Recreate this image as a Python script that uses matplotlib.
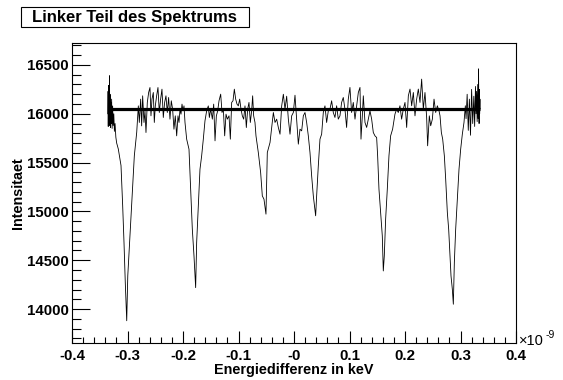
import matplotlib.pyplot as plt
from matplotlib.ticker import MultipleLocator, FixedLocator, FixedFormatter
from matplotlib.patches import Rectangle

plt.rcParams['font.family'] = ['Liberation Sans', 'DejaVu Sans']

# energy difference in units of 1e-9 keV
energy = [
    # left edge (dense points)
    -0.3352, -0.3350, -0.3347, -0.3343, -0.3339, -0.3335, -0.3330, -0.3325, -0.3320, -0.3314, -0.3308,
    -0.3301, -0.3294, -0.3286, -0.3277, -0.3268, -0.3258, -0.3247, -0.3236, -0.3224, -0.3210, -0.3195,
    # dip 1
    -0.3166, -0.3117, -0.3087, -0.3063, -0.3040, -0.3014, -0.2995, -0.2960, -0.2924, -0.2877, -0.2834,
    # noise
    -0.2805, -0.2787, -0.2763, -0.2745, -0.2727, -0.2703, -0.2685, -0.2667, -0.2643, -0.2619, -0.2595,
    -0.2577, -0.2559, -0.2535, -0.2517, -0.2499, -0.2475, -0.2451, -0.2427, -0.2403, -0.2379, -0.2355,
    -0.2331, -0.2307, -0.2283, -0.2259, -0.2235, -0.2211, -0.2187, -0.2163, -0.2139,
    -0.2114, -0.2090, -0.2072, -0.2054, -0.2036, -0.2018, -0.2000, -0.1982, -0.1964,
    # dip 2
    -0.1934, -0.1892, -0.1862, -0.1832, -0.1802, -0.1772, -0.1754, -0.1724, -0.1694, -0.1664, -0.1634,
    -0.1604, -0.1574, -0.1544,
    # noise
    -0.1525, -0.1501, -0.1471, -0.1447, -0.1423, -0.1399, -0.1375, -0.1351, -0.1321, -0.1297, -0.1273,
    -0.1249, -0.1225, -0.1201, -0.1171, -0.1147, -0.1123, -0.1099, -0.1075, -0.1051, -0.1027, -0.1003,
    -0.0979, -0.0955, -0.0931, -0.0907, -0.0883, -0.0859, -0.0835, -0.0811, -0.0787, -0.0763,
    # dip 3
    -0.0745, -0.0727, -0.0703, -0.0685, -0.0643, -0.0601, -0.0571, -0.0541, -0.0505, -0.0493, -0.0481,
    -0.0432, -0.0402, -0.0372,
    # noise
    -0.0342, -0.0312, -0.0282, -0.0252, -0.0222, -0.0192, -0.0162, -0.0132, -0.0102, -0.0072,
    -0.0042, -0.0012, 0.0018, 0.0048, 0.0078, 0.0108, 0.0138, 0.0168, 0.0198, 0.0228,
    # dip 4
    0.0258, 0.0288, 0.0318, 0.0348, 0.0390, 0.0408, 0.0438, 0.0468, 0.0498, 0.0528, 0.0558,
    0.0588, 0.0618, 0.0648,
    # noise
    0.0678, 0.0708, 0.0738, 0.0768, 0.0798, 0.0828, 0.0858, 0.0888, 0.0918, 0.0948, 0.0978,
    0.1008, 0.1038, 0.1068, 0.1099, 0.1129, 0.1159, 0.1189, 0.1207, 0.1231, 0.1249, 0.1279,
    0.1309, 0.1339, 0.1369, 0.1399, 0.1429, 0.1459, 0.1489,
    # dip 5
    0.1507, 0.1531, 0.1561, 0.1591, 0.1609, 0.1627, 0.1651, 0.1681, 0.1711, 0.1741, 0.1777,
    0.1819, 0.1849, 0.1879, 0.1909, 0.1939, 0.1969,
    # noise
    0.2000, 0.2030, 0.2060, 0.2090, 0.2120, 0.2150, 0.2180, 0.2210, 0.2240, 0.2270, 0.2300,
    0.2330, 0.2360, 0.2390, 0.2408, 0.2438, 0.2463, 0.2493, 0.2523, 0.2553, 0.2583, 0.2613,
    0.2631, 0.2655,
    # dip 6
    0.2679, 0.2709, 0.2733, 0.2763, 0.2787, 0.2811, 0.2829, 0.2853, 0.2871, 0.2889, 0.2913,
    0.2943, 0.2973, 0.3003, 0.3033, 0.3063, 0.3087,
    # right edge (dense points)
    0.3100, 0.3120, 0.3140, 0.3160, 0.3180, 0.3200, 0.3220, 0.3240, 0.3255, 0.3270, 0.3280,
    0.3290, 0.3300, 0.3310, 0.3320, 0.3325, 0.3330, 0.3335, 0.3340, 0.3345, 0.3350, 0.3352,
]

intensity = [
    16000, 16230, 15870, 16290, 15900, 16180, 15950, 16390, 15880, 16200, 15860,
    16120, 15900, 16150, 15850, 16080, 15880, 16000, 15820, 15900, 15760, 15700,
    15640, 15470, 15060, 14680, 14270, 13880, 14340, 14700, 15090, 15570, 15810,
    16081, 15911, 16150, 15876, 16184, 15911, 16030, 15808, 16116, 16218, 16269,
    15979, 16150, 16218, 15911, 16081, 16184, 16269, 16013, 16150, 16252, 15962,
    16116, 16184, 16013, 16167, 15945, 16133, 16047, 15842, 15979,
    15774, 15979, 15911, 16047, 15996, 16099, 16030, 16081, 15911,
    15740, 15637, 15227, 14817, 14544, 14219, 14681, 15056, 15432, 15569, 15740,
    15928, 16030, 16081,
    15962, 16047, 15945, 16099, 15723, 15979, 16030, 16133, 16201, 16013, 16047,
    15774, 15996, 15945, 15979, 15740, 16116, 16133, 16252, 16150, 16099, 16081,
    16150, 16047, 15979, 15945, 16081, 15859, 16047, 16116, 15911, 16030,
    16184, 15979, 15911, 15774, 15603, 15398, 15159, 15125, 14972, 15296, 15603,
    15706, 15859, 16013,
    15911, 15945, 15859, 15791, 16081, 16200, 16047, 16180, 15945, 15791,
    15979, 16013, 16190, 15945, 15689, 15842, 15825, 15979, 16013, 15911,
    15774, 15603, 15364, 15159, 14955, 15159, 15467, 15740, 15791, 16013, 16081,
    15911, 16030, 16047,
    16133, 16013, 15962, 16082, 15945, 15979, 16116, 16167, 16047, 15860, 16150,
    16270, 16013, 16116, 15945, 16082, 16218, 16270, 15740, 15979, 16184, 15911,
    15860, 15945, 16030, 15945, 15808, 15774, 15757,
    15569, 15227, 14988, 14749, 14390, 14544, 14920, 15227, 15569, 15774, 15843,
    15996, 16047, 16013, 16082, 15945, 16047,
    16116, 15860, 16184, 16253, 16082, 16218, 15979, 16150, 16253, 16116, 16355,
    16047, 16218, 15962, 15672, 15979, 15877, 15945, 16150, 16013, 16082, 16030,
    15979, 15808,
    15740, 15569, 15330, 14988, 14817, 14544, 14339, 14202, 14049, 14476, 14817,
    15125, 15432, 15637, 15791, 15911, 16082,
    15950, 16200, 15830, 16150, 15780, 16250, 15900, 16180, 15870, 16280, 16000,
    16230, 15920, 16300, 15950, 16460, 16100, 15900, 16250, 16000, 16150, 16050,
]

fit_range = [-0.3352, 0.3352]
fit_level = 16050

xticks = [-0.4, -0.3, -0.2, -0.1, 0.0, 0.1, 0.2, 0.3, 0.4]
xtick_labels = ['-0.4', '-0.3', '-0.2', '-0.1', '-0', '0.1', '0.2', '0.3', '0.4']
yticks = [14000, 14500, 15000, 15500, 16000, 16500]

W, H = 563, 380
fig = plt.figure(figsize=(W / 100, H / 100), dpi=100)
ax = fig.add_axes([72 / W, 37 / H, 444 / W, 300 / H])

ax.plot(energy, intensity, color='black', lw=0.6)
ax.plot(fit_range, [fit_level, fit_level], color='black', lw=2.3, solid_capstyle='butt')

ax.set_xlim(-0.4, 0.4)
ax.set_ylim(13652, 16725)

ax.xaxis.set_major_locator(FixedLocator(xticks))
ax.xaxis.set_major_formatter(FixedFormatter(xtick_labels))
ax.xaxis.set_minor_locator(MultipleLocator(0.02))
ax.yaxis.set_major_locator(FixedLocator(yticks))
ax.yaxis.set_minor_locator(MultipleLocator(100))

ax.tick_params(direction='in', top=False, right=False, which='both', width=0.8)
ax.tick_params(axis='x', which='major', length=9, pad=4)
ax.tick_params(axis='x', which='minor', length=4.5)
ax.tick_params(axis='y', which='major', length=13, pad=2.5)
ax.tick_params(axis='y', which='minor', length=6.5)
for lab in ax.get_xticklabels() + ax.get_yticklabels():
    lab.set_fontsize(10.8)
    lab.set_fontweight('bold')
for sp in ax.spines.values():
    sp.set_linewidth(0.8)

ax.set_xlabel('Energiedifferenz in keV', fontsize=10.4, fontweight='bold', labelpad=0)
ax.set_ylabel('Intensitaet', fontsize=10.4, fontweight='bold', labelpad=1)

# exponent of the x axis
fig.text(519 / W, 1 - 345 / H, '\u00d710', fontsize=10.5, ha='left', va='baseline')
fig.text(546 / W, 1 - 338 / H, '-9', fontsize=7.5, ha='left', va='baseline')

# title box
fig.patches.append(Rectangle((22 / W, 1 - 28 / H), 228 / W, 20 / H, transform=fig.transFigure,
                             facecolor='#808080', edgecolor='none'))
fig.patches.append(Rectangle((21 / W, 1 - 27 / H), 228 / W, 20 / H, transform=fig.transFigure,
                             facecolor='white', edgecolor='black', lw=0.8))
fig.text(134 / W, 1 - 17.5 / H, 'Linker Teil des Spektrums', fontsize=12, fontweight='bold',
         ha='center', va='center')

fig.savefig('out.png', dpi=100)
